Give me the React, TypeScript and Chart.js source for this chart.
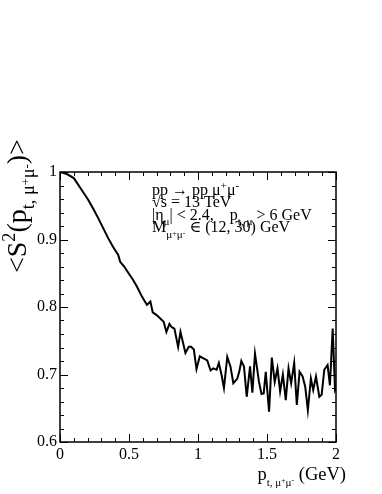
import React, { useEffect, useRef } from "react";
import { Chart, registerables } from "chart.js";

Chart.register(...registerables);

// pt (GeV) and <S^2> values
const ptValues = [
  0, 0.05, 0.1, 0.155, 0.204, 0.24, 0.276, 0.31, 0.349, 0.385, 0.422, 0.436, 0.465, 0.497,
  0.53, 0.558, 0.595, 0.63, 0.655, 0.672, 0.7, 0.727, 0.751, 0.771, 0.793, 0.81, 0.829, 0.856,
  0.873, 0.909, 0.933, 0.95, 0.97, 0.989, 1.013, 1.04, 1.067, 1.091, 1.11, 1.135, 1.151, 1.17,
  1.188, 1.212, 1.235, 1.256, 1.285, 1.3, 1.314, 1.333, 1.353, 1.377, 1.394, 1.413, 1.442, 1.46,
  1.476, 1.491, 1.515, 1.535, 1.556, 1.576, 1.595, 1.615, 1.636, 1.656, 1.675, 1.697, 1.716,
  1.736, 1.758, 1.777, 1.796, 1.818, 1.835, 1.855, 1.879, 1.896, 1.915, 1.939, 1.956, 1.976,
  1.993, 2.0,
];
const s2Values = [
  1.0, 0.997, 0.991, 0.974, 0.959, 0.946, 0.932, 0.918, 0.902, 0.889, 0.877, 0.867, 0.86, 0.85,
  0.84, 0.83, 0.815, 0.803, 0.808, 0.792, 0.788, 0.783, 0.778, 0.763, 0.775, 0.77, 0.768, 0.741,
  0.763, 0.732, 0.741, 0.741, 0.737, 0.708, 0.727, 0.724, 0.721, 0.706, 0.709, 0.707, 0.717, 0.7,
  0.68, 0.726, 0.712, 0.687, 0.694, 0.705, 0.72, 0.712, 0.667, 0.712, 0.673, 0.731, 0.689, 0.671,
  0.672, 0.704, 0.645, 0.725, 0.689, 0.709, 0.675, 0.7, 0.662, 0.709, 0.687, 0.717, 0.655,
  0.704, 0.697, 0.682, 0.647, 0.694, 0.677, 0.697, 0.667, 0.67, 0.707, 0.714, 0.684, 0.768,
  0.677, 0.68,
];
const xTickLabels = ["0", "0.5", "1", "1.5", "2"];
const yTickLabels = ["0.6", "0.7", "0.8", "0.9", "1"];

const SERIF = "'Liberation Serif', 'DejaVu Serif', serif";

// s: size factor, d: vertical shift as a factor of the base size (+ down)
type Seg = { t: string; s?: number; d?: number };

function drawRich(
  ctx: CanvasRenderingContext2D,
  segs: Seg[],
  x: number,
  y: number,
  size: number,
  align: "left" | "right" = "left"
) {
  let total = 0;
  for (const g of segs) {
    ctx.font = `${size * (g.s ?? 1)}px ${SERIF}`;
    total += ctx.measureText(g.t).width;
  }
  let cx = align === "right" ? x - total : x;
  ctx.textAlign = "left";
  ctx.textBaseline = "alphabetic";
  ctx.fillStyle = "#000";
  for (const g of segs) {
    ctx.font = `${size * (g.s ?? 1)}px ${SERIF}`;
    ctx.fillText(g.t, cx, y + size * (g.d ?? 0));
    cx += ctx.measureText(g.t).width;
  }
}

const SUP = { s: 0.7, d: -0.38 };
const SUB = { s: 0.7, d: 0.3 };

const decorPlugin = {
  id: "decor",
  afterDraw(chart: any) {
    const ctx: CanvasRenderingContext2D = chart.ctx;
    const xs = chart.scales.x;
    const ys = chart.scales.y;
    const { left, right, top, bottom } = chart.chartArea;
    ctx.save();
    ctx.strokeStyle = "#000";
    ctx.lineWidth = 1.5;
    ctx.strokeRect(left, top, right - left, bottom - top);
    ctx.lineWidth = 1;
    ctx.beginPath();
    for (let i = 0; i <= 20; i++) {
      const v = i * 0.1;
      const px = Math.round(xs.getPixelForValue(v)) + 0.5;
      const len = i % 5 === 0 ? 8 : 4;
      ctx.moveTo(px, bottom);
      ctx.lineTo(px, bottom - len);
      ctx.moveTo(px, top);
      ctx.lineTo(px, top + len);
    }
    for (let i = 0; i <= 20; i++) {
      const v = 0.6 + i * 0.02;
      const py = Math.round(ys.getPixelForValue(v)) + 0.5;
      const len = i % 5 === 0 ? 8 : 4;
      ctx.moveTo(left, py);
      ctx.lineTo(left + len, py);
      ctx.moveTo(right, py);
      ctx.lineTo(right - len, py);
    }
    ctx.stroke();

    // legend text block
    const fs = 16;
    drawRich(
      ctx,
      [{ t: "pp \u2192 pp \u03bc" }, { t: "+", ...SUP }, { t: "\u03bc" }, { t: "-", ...SUP }],
      152, 195, fs
    );
    drawRich(ctx, [{ t: "\u221as = 13 TeV" }], 152, 207, fs);
    drawRich(
      ctx,
      [
        { t: "|\u03b7" },
        { t: "\u03bc", ...SUB },
        { t: "| < 2.4,    p" },
        { t: "t, \u03bc", ...SUB },
        { t: " > 6 GeV" },
      ],
      152, 220, fs
    );
    drawRich(
      ctx,
      [
        { t: "M" },
        { t: "\u03bc", s: 0.7, d: 0.35 },
        { t: "+", s: 0.5, d: 0.22 },
        { t: "\u03bc", s: 0.7, d: 0.35 },
        { t: "-", s: 0.5, d: 0.22 },
        { t: " \u2208 (12, 30) GeV" },
      ],
      152, 232, fs
    );

    // x title
    drawRich(
      ctx,
      [
        { t: "p" },
        { t: "t, \u03bc", s: 0.6, d: 0.3 },
        { t: "+", s: 0.42, d: 0.15 },
        { t: "\u03bc", s: 0.6, d: 0.3 },
        { t: "-", s: 0.42, d: 0.15 },
        { t: " (GeV)" },
      ],
      346, 480, 18.5, "right"
    );

    // y title (rotated)
    ctx.save();
    ctx.translate(26, 273);
    ctx.rotate(-Math.PI / 2);
    drawRich(
      ctx,
      [
        { t: "<S" },
        { t: "2", s: 0.65, d: -0.38 },
        { t: "(p" },
        { t: "t, \u03bc", s: 0.65, d: 0.3 },
        { t: "+", s: 0.45, d: 0.14 },
        { t: "\u03bc", s: 0.65, d: 0.3 },
        { t: "-", s: 0.45, d: 0.14 },
        { t: ")>" },
      ],
      0, 0, 28
    );
    ctx.restore();
    ctx.restore();
  },
};

export default function App() {
  const ref = useRef<HTMLCanvasElement | null>(null);
  useEffect(() => {
    if (!ref.current) return;
    const points = ptValues.map((x, i) => ({ x, y: s2Values[i] }));
    const chart = new Chart(ref.current, {
      type: "line",
      data: {
        datasets: [
          {
            data: points,
            borderColor: "#000",
            borderWidth: 2,
            pointRadius: 0,
            tension: 0,
            fill: false,
          },
        ],
      },
      options: {
        animation: false,
        responsive: false,
        events: [],
        layout: { padding: { top: 172, right: 46, left: 0, bottom: 0 } },
        plugins: { legend: { display: false }, tooltip: { enabled: false }, title: { display: false } },
        scales: {
          x: {
            type: "linear",
            min: 0,
            max: 2,
            grid: { display: false, drawTicks: false },
            border: { display: false },
            ticks: {
              stepSize: 0.5,
              padding: 3,
              color: "#000",
              font: { family: SERIF, size: 16 },
              maxRotation: 0,
              callback: (v: any) => {
                const i = Math.round(Number(v) / 0.5);
                return xTickLabels[i] ?? "";
              },
            },
            afterFit: (s: any) => {
              s.height = 52;
            },
          },
          y: {
            min: 0.6,
            max: 1,
            grid: { display: false, drawTicks: false },
            border: { display: false },
            ticks: {
              stepSize: 0.1,
              padding: 3,
              color: "#000",
              font: { family: SERIF, size: 16 },
              callback: (v: any) => {
                const i = Math.round((Number(v) - 0.6) / 0.1);
                return yTickLabels[i] ?? "";
              },
            },
            afterFit: (s: any) => {
              s.width = 60;
            },
          },
        },
      },
      plugins: [decorPlugin],
    });
    return () => chart.destroy();
  }, []);
  return (
    <div style={{ position: "absolute", left: 0, top: 0, width: 382, height: 494, background: "#fff" }}>
      <canvas ref={ref} width={382} height={494} style={{ display: "block", width: 382, height: 494 }} />
    </div>
  );
}
